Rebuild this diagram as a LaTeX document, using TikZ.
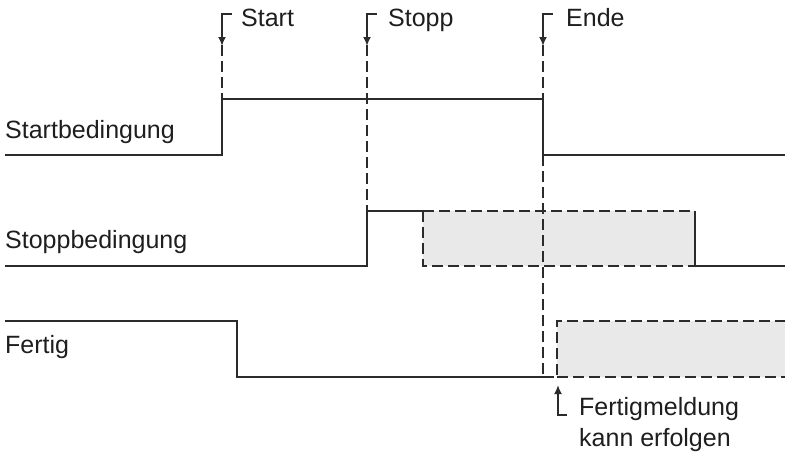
\documentclass[tikz,border=0pt]{standalone}
\usepackage{fontspec}
\setmainfont{Liberation Sans}
\usetikzlibrary{arrows.meta}
\definecolor{lc}{HTML}{2B2B2B}
\definecolor{tc}{HTML}{1E1E1E}
\definecolor{gf}{HTML}{E9E9E9}
\begin{document}
\begin{tikzpicture}[x=1pt,y=-1pt,
  sig/.style={line width=2pt, draw=lc},
  dsh/.style={line width=2pt, draw=lc, dash pattern=on 11pt off 5pt},
  evt/.style={line width=1.8pt, draw=lc, -{Latex[length=9pt,width=8pt]}},
  lbl/.style={font=\fontsize{25}{30}\selectfont, text=tc, inner sep=0pt, anchor=base west},
  gbox/.style={fill=gf, draw=none}]
\useasboundingbox (0,0) rectangle (785,464);
% grey alternative regions
\fill[gbox] (423,211) rectangle (695,266);
\fill[gbox] (557,321) rectangle (785,377);
% Startbedingung
\draw[sig] (5,155) -- (222,155) -- (222,99) -- (543,99) -- (543,155) -- (785,155);
% Stoppbedingung
\draw[sig] (5,266) -- (367,266) -- (367,211) -- (423,211);
\draw[dsh] (423,211) -- (423,266) -- (695,266);
\draw[dsh] (423,211) -- (695,211);
\draw[sig] (695,211) -- (695,266) -- (785,266);
% Fertig
\draw[sig] (5,321) -- (237,321) -- (237,377) -- (543,377);
\draw[dsh] (543,377) -- (557,377) -- (557,321) -- (785,321);
\draw[dsh] (557,377) -- (785,377);
% event lines
\draw[dsh] (222,45) -- (222,99);
\draw[dsh] (367,45) -- (367,211);
\draw[dsh] (543,45) -- (543,99);
\draw[dsh] (543,155) -- (543,378);
% event arrows
\coordinate (aS) at (232,14);
\coordinate (aP) at (377,14);
\coordinate (aE) at (553,14);
\draw[evt] (aS) -- (222,14) -- (222,46);
\draw[evt] (aP) -- (367,14) -- (367,46);
\draw[evt] (aE) -- (543,14) -- (543,46);
\node[lbl] (lStart) at (241,26) {Start};
\node[lbl] (lStopp) at (388,26) {Stopp};
\node[lbl] (lEnde) at (566,26) {Ende};
% signal names
\node[lbl] (nA) at (5,138) {Startbedingung};
\node[lbl] (nB) at (5,248) {Stoppbedingung};
\node[lbl] (nC) at (5,353) {Fertig};
% bottom annotation
\coordinate (aF) at (567,415);
\draw[evt] (aF) -- (558,415) -- (558,385);
\node[lbl] (f1) at (579,415) {Fertigmeldung};
\node[lbl] (f2) at (579,446) {kann erfolgen};
\end{tikzpicture}
\end{document}
